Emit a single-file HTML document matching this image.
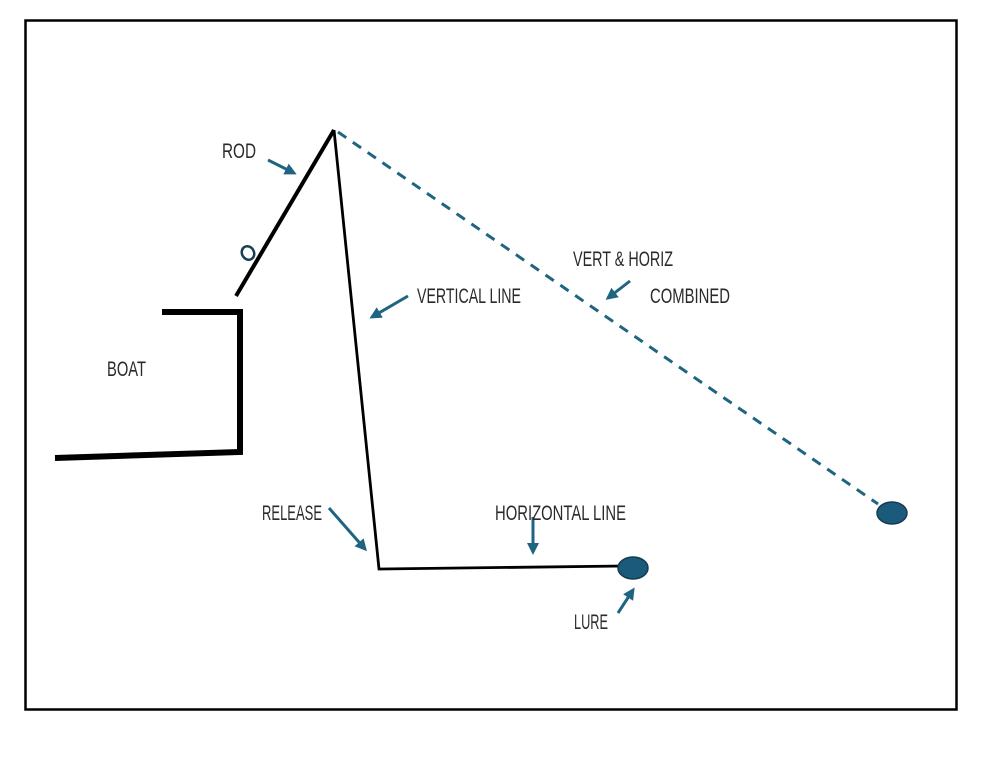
<!DOCTYPE html>
<html><head><style>
html,body{margin:0;padding:0;background:#fff;}
svg{display:block}
text{font-family:"Liberation Sans Narrow","Liberation Sans",sans-serif;font-size:21px;fill:#2a2a2a;}
</style></head><body>
<svg width="989" height="768" viewBox="0 0 989 768" xmlns="http://www.w3.org/2000/svg">
<defs>
<marker id="ah" markerWidth="4" markerHeight="4" refX="3" refY="2" orient="auto" markerUnits="strokeWidth">
<path d="M0,0 L4,2 L0,4 Z" fill="#1f6480"/>
</marker>
</defs>
<rect x="25.5" y="20.5" width="931" height="689" fill="none" stroke="#000" stroke-width="2.5"/>
<polyline points="162,312 240,312 240,452 55,458" fill="none" stroke="#000" stroke-width="6"/>
<line x1="236" y1="296" x2="334" y2="130" stroke="#000" stroke-width="4"/>
<ellipse cx="248" cy="253" rx="6" ry="7" transform="rotate(-30 248 253)" fill="none" stroke="#1a3f55" stroke-width="2.5"/>
<polyline points="334,130 379,569 623,566" fill="none" stroke="#000" stroke-width="2.8"/>
<ellipse cx="633" cy="568" rx="15" ry="11" fill="#1b5a7a" stroke="#123c52" stroke-width="1.5"/>
<line x1="338" y1="132" x2="878" y2="504" stroke="#1f6480" stroke-width="3" stroke-dasharray="10,8"/>
<ellipse cx="892" cy="513" rx="15" ry="11" fill="#1b5a7a" stroke="#123c52" stroke-width="1.5"/>
<g stroke="#1f6480" stroke-width="3" marker-end="url(#ah)">
<line x1="268" y1="160" x2="294" y2="173"/>
<line x1="408" y1="296" x2="372" y2="317"/>
<line x1="630" y1="281" x2="608" y2="298"/>
<line x1="329" y1="508" x2="365" y2="549"/>
<line x1="533" y1="517" x2="533" y2="552"/>
<line x1="618" y1="613" x2="633" y2="590"/>
</g>
<text x="222" y="158" textLength="34" lengthAdjust="spacingAndGlyphs">ROD</text>
<text x="417" y="303" textLength="104" lengthAdjust="spacingAndGlyphs">VERTICAL LINE</text>
<text x="573" y="266" textLength="100" lengthAdjust="spacingAndGlyphs">VERT &amp; HORIZ</text>
<text x="650" y="303" textLength="80" lengthAdjust="spacingAndGlyphs">COMBINED</text>
<text x="107" y="376" textLength="39" lengthAdjust="spacingAndGlyphs">BOAT</text>
<text x="262" y="520" textLength="60" lengthAdjust="spacingAndGlyphs">RELEASE</text>
<text x="495" y="520" textLength="131" lengthAdjust="spacingAndGlyphs">HORIZONTAL LINE</text>
<text x="574" y="629" textLength="34" lengthAdjust="spacingAndGlyphs">LURE</text>
</svg>
</body></html>
